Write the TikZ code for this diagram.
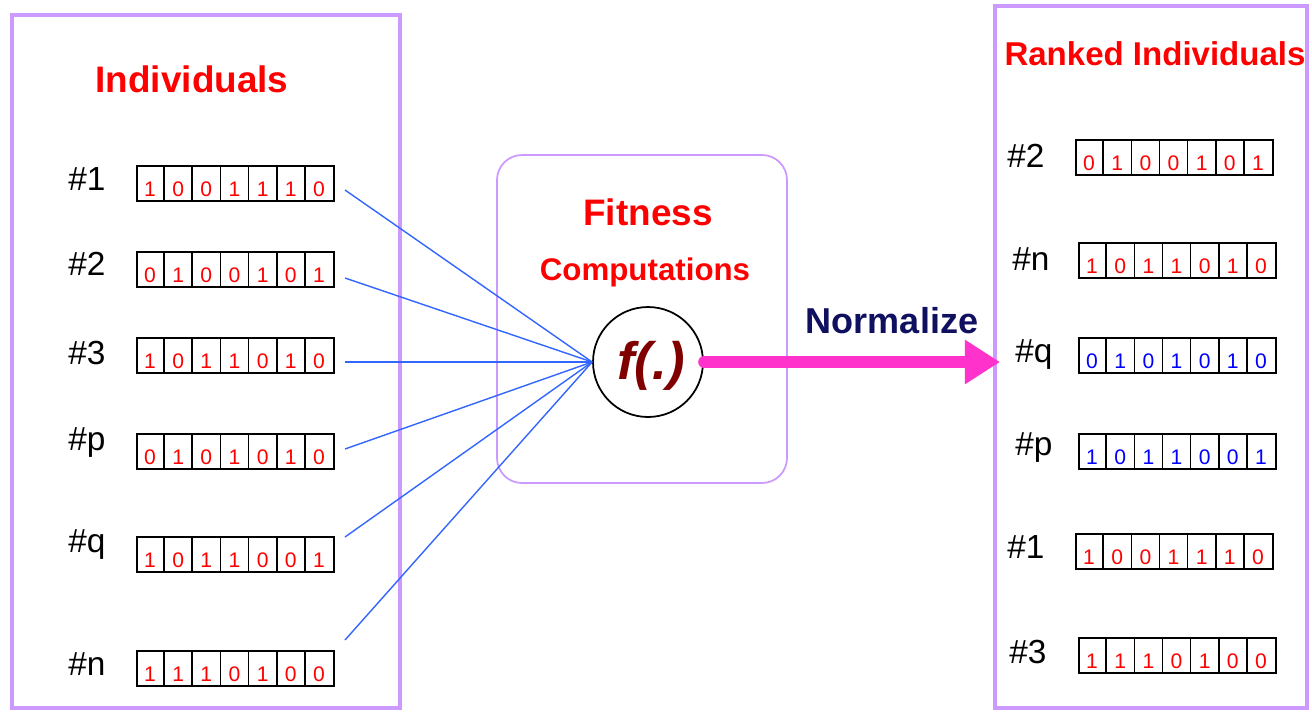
\documentclass[tikz,border=0pt]{standalone}
\usepackage{fontspec}
\setmainfont{Liberation Sans}
\usetikzlibrary{calc,arrows.meta}
\definecolor{boxpurple}{RGB}{204,153,255}
\definecolor{linkblue}{RGB}{51,102,255}
\definecolor{arrowpink}{RGB}{255,51,204}
\definecolor{navyblue}{RGB}{16,16,96}
\definecolor{fdark}{RGB}{128,0,0}
\definecolor{bitred}{RGB}{255,0,0}
\definecolor{bitblue}{RGB}{0,0,255}
\tikzset{
  panel/.style={draw=boxpurple, line width=2.4pt},
  fitpanel/.style={draw=boxpurple, line width=1pt, rounded corners=0.5cm},
  bitbox/.style={draw=black, line width=1pt, minimum width=3.94cm, minimum height=0.7cm, inner sep=0pt},
  cellsep/.style={draw=black, line width=0.9pt},
  bitdigit/.style={anchor=base, inner sep=0pt, font=\fontsize{12}{14}\selectfont},
  idlabel/.style={anchor=base west, inner sep=0pt, font=\fontsize{19}{22}\selectfont},
  title/.style={anchor=base, inner sep=0pt, text=bitred},
  link/.style={draw=linkblue, line width=0.8pt},
  pinkarrow/.style={draw=arrowpink, fill=arrowpink, line width=6.5pt, line cap=round, -{Triangle[length=20pt,width=24pt]}},
  fcircle/.style={circle, draw=black, line width=1pt, minimum size=2.2cm, inner sep=0pt}
}
\newcommand{\bitrow}[5]{%
  \node[bitbox,anchor=north west] (#1) at (#2,#3) {};
  \foreach \bt [count=\ii] in {#4}{
    \node[bitdigit,text=#5] at ($(#1.north west)+({(\ii-0.5)*197/7},31)$) {\bt};
  }
  \foreach \ii in {1,...,6}{
    \draw[cellsep] ($(#1.north west)+({\ii*197/7},0)$) -- ($(#1.south west)+({\ii*197/7},0)$);
  }
}
\begin{document}
\begin{tikzpicture}[x=0.02cm,y=-0.02cm]
\useasboundingbox (0,0) rectangle (1312,711);
% panels
\draw[panel] (12,15) rectangle (400,708);
\draw[panel] (995,6) rectangle (1307,708);
\draw[fitpanel] (497,155) rectangle (787,483);
% titles
\node[title, font=\fontsize{21}{24}\selectfont\bfseries] (tindiv) at (192,92) {Individuals};
\node[title, font=\fontsize{18.8}{22}\selectfont\bfseries] (tranked) at (1155,65) {Ranked Individuals};
\node[title, font=\fontsize{21}{24}\selectfont\bfseries] (tfit) at (648,225) {Fitness};
\node[title, font=\fontsize{17.8}{21}\selectfont\bfseries] (tcomp) at (645,280) {Computations};
\node[anchor=base, inner sep=0pt, text=navyblue, font=\fontsize{20.5}{24}\selectfont\bfseries] (tnorm) at (892,333) {Normalize};
% left rows
\node[idlabel] (l1) at (68,190) {\#1};
\node[idlabel] (l2) at (68,275) {\#2};
\node[idlabel] (l3) at (68,364) {\#3};
\node[idlabel] (lp) at (68,450) {\#p};
\node[idlabel] (lq) at (68,552) {\#q};
\node[idlabel] (ln) at (68,675) {\#n};
\bitrow{L1}{136}{165}{1,0,0,1,1,1,0}{bitred}
\bitrow{L2}{136}{251}{0,1,0,0,1,0,1}{bitred}
\bitrow{L3}{136}{337}{1,0,1,1,0,1,0}{bitred}
\bitrow{Lp}{136}{433}{0,1,0,1,0,1,0}{bitred}
\bitrow{Lq}{136}{536}{1,0,1,1,0,0,1}{bitred}
\bitrow{Ln}{136}{650}{1,1,1,0,1,0,0}{bitred}
% right rows
\node[idlabel] (r2) at (1007,167) {\#2};
\node[idlabel] (rn) at (1012,270) {\#n};
\node[idlabel] (rq) at (1015,362) {\#q};
\node[idlabel] (rp) at (1015,455) {\#p};
\node[idlabel] (r1) at (1007,558) {\#1};
\node[idlabel] (r3) at (1009,663) {\#3};
\bitrow{R2}{1075}{139}{0,1,0,0,1,0,1}{bitred}
\bitrow{Rn}{1078}{242}{1,0,1,1,0,1,0}{bitred}
\bitrow{Rq}{1078}{337}{0,1,0,1,0,1,0}{bitblue}
\bitrow{Rp}{1078}{433}{1,0,1,1,0,0,1}{bitblue}
\bitrow{R1}{1075}{533}{1,0,0,1,1,1,0}{bitred}
\bitrow{R3}{1078}{637}{1,1,1,0,1,0,0}{bitred}
% fitness function
\node[fcircle] (fx) at (648,362) {};
\node[inner sep=0pt, text=fdark, font=\fontsize{30}{34}\selectfont\bfseries\itshape] (ftext) at (651,366) {f(.)};
% links
\coordinate (s1) at (345,190);
\coordinate (s2) at (345,278);
\coordinate (s3) at (345,362);
\coordinate (sp) at (345,449);
\coordinate (sq) at (345,537);
\coordinate (sn) at (345,640);
\foreach \s in {s1,s2,s3,sp,sq,sn}{
  \draw[link] (\s) -- (fx.west);
}
\coordinate (tip) at (1000,362);
\draw[pinkarrow] (fx.east) -- (tip);
\end{tikzpicture}
\end{document}
